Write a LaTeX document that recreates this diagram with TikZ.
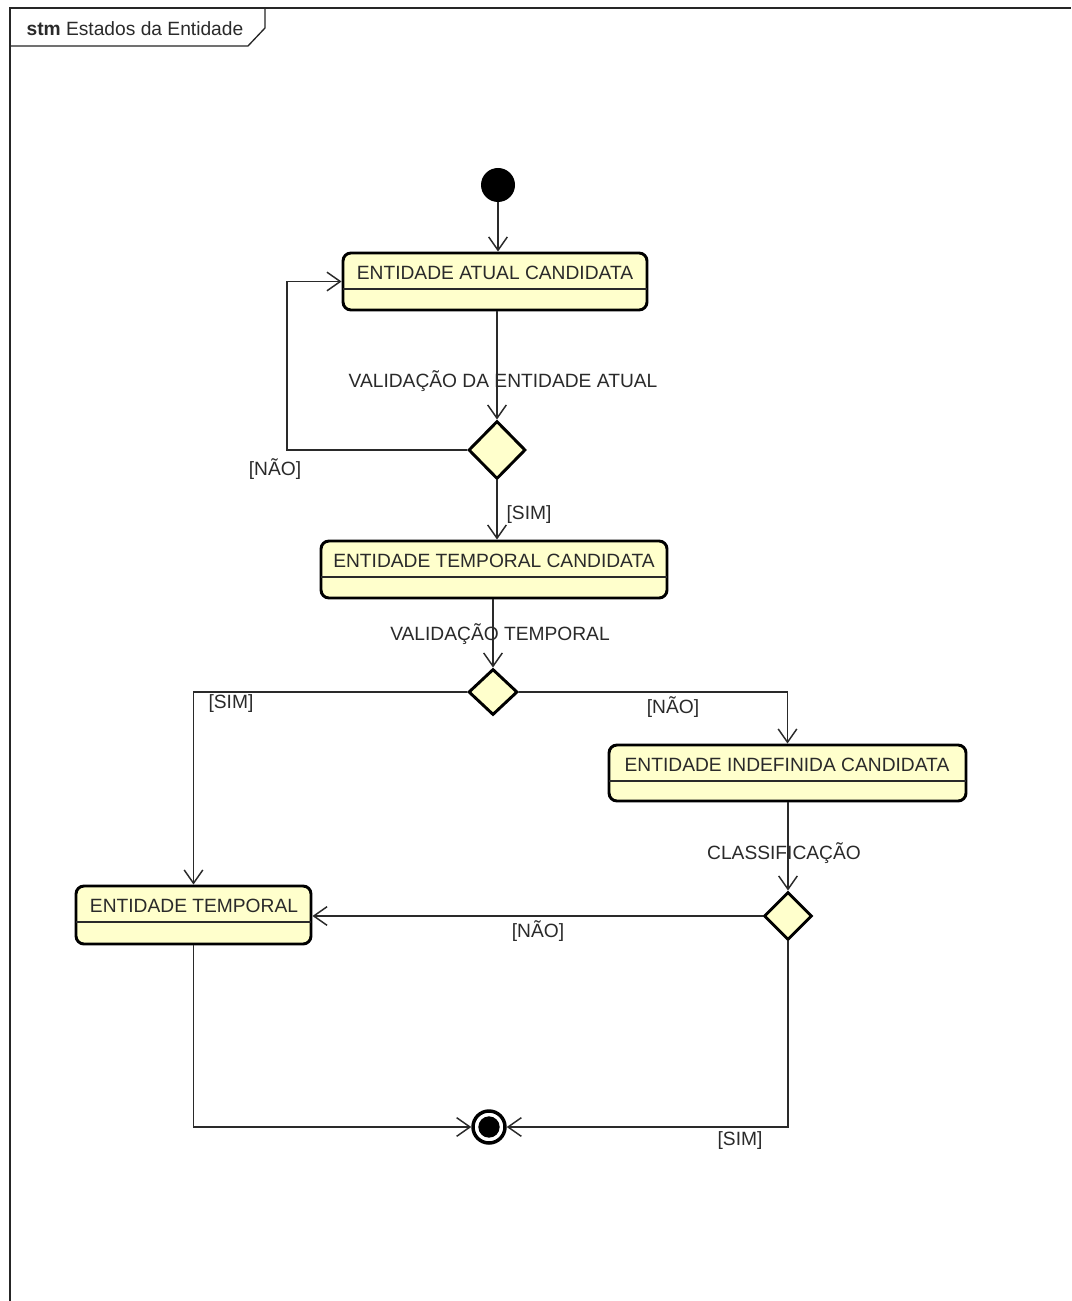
\documentclass[tikz,border=0pt]{standalone}
\usepackage{fontspec}
\setmainfont{Liberation Sans}
\usetikzlibrary{arrows.meta,shapes.geometric,fit}
\definecolor{stfill}{HTML}{FFFFCC}
\definecolor{ink}{HTML}{2A2A2A}
\begin{document}
\begin{tikzpicture}[x=0.75pt,y=-0.75pt,
  txt/.style={font=\fontsize{14.4}{16}\selectfont, text=ink, inner sep=1pt},
  state/.style={draw=black, line width=2.2pt, rounded corners=6pt, fill=stfill, inner sep=0pt},
  choice/.style={diamond, draw=black, line width=2.2pt, fill=stfill, inner sep=0pt},
  conn/.style={draw=ink, line width=1.1pt},
  arr/.style={conn, -{Straight Barb[length=10pt,width=14pt,line width=1.1pt]}},
  divider/.style={draw=ink, line width=0.8pt},
  framestyle/.style={draw=black!85, line width=1pt}]
\useasboundingbox (0,0) rectangle (1071,1301);
\fill[white] (0,0) rectangle (1071,1301);
% frame
\draw[framestyle] (10,1301) -- (10,8) -- (1071,8);
\draw[framestyle] (10,46) -- (248,46) -- (265,28) -- (265,8);
\node[txt, anchor=west] (title) at (25,29) {\textbf{stm} Estados da Entidade};

% initial
\node[circle, fill=black, inner sep=0pt, minimum size=25.5pt] (init) at (498,185) {};

% states
\node[state, fit={(343,253) (647,310)}] (s1) {};
\draw[divider] (343,289) -- (647,289);
\node[txt] (t1) at (495,273) {ENTIDADE ATUAL CANDIDATA};

\node[state, fit={(321,541) (667,598)}] (s2) {};
\draw[divider] (321,577) -- (667,577);
\node[txt] (t2) at (494,561) {ENTIDADE TEMPORAL CANDIDATA};

\node[state, fit={(609,745) (966,801)}] (s4) {};
\draw[divider] (609,781) -- (966,781);
\node[txt] (t4) at (787,765) {ENTIDADE INDEFINIDA CANDIDATA};

\node[state, fit={(76,886) (311,944)}] (s3) {};
\draw[divider] (76,922) -- (311,922);
\node[txt] (t3) at (194,906) {ENTIDADE TEMPORAL};

% choices
\node[choice, minimum width=42.75pt, minimum height=43.5pt] (d1) at (497,450) {};
\node[choice, minimum width=36.75pt, minimum height=34.5pt] (d2) at (493,692) {};
\node[choice, minimum width=36pt, minimum height=36pt] (d3) at (788,916) {};

% final
\node[circle, draw=black, line width=2.6pt, fill=white, inner sep=0pt, minimum size=24pt] (fin) at (489,1127) {};
\node[circle, fill=black, inner sep=0pt, minimum size=16pt] (finin) at (489,1127) {};

% connectors
\coordinate (loopc) at (287,450);
\draw[arr] (init) -- (init |- s1.north);
\draw[arr] (d1 |- s1.south) -- (d1.north);
\draw[arr] (d1.west) -- (loopc) |- (s1.west);
\draw[arr] (d1.south) -- (d1.south |- s2.north);
\draw[arr] (d2 |- s2.south) -- (d2.north);
\draw[arr] (d2.west) -| (s3.north);
\draw[arr] (d2.east) -| (s4.north);
\draw[arr] (d3 |- s4.south) -- (d3.north);
\draw[arr] (d3.west) -- (d3.west -| s3.east);
\draw[arr] (s3.south) |- (fin.west);
\draw[arr] (d3.south) |- (fin.east);

% labels
\node[txt] (l1) at (503,381) {VALIDAÇÃO DA ENTIDADE ATUAL};
\node[txt] (l2) at (275,469) {[NÃO]};
\node[txt] (l3) at (529,515) {[SIM]};
\node[txt] (l4) at (500,634) {VALIDAÇÃO TEMPORAL};
\node[txt] (l5) at (231,704) {[SIM]};
\node[txt] (l6) at (673,707) {[NÃO]};
\node[txt] (l7) at (784,853) {CLASSIFICAÇÃO};
\node[txt] (l8) at (538,931) {[NÃO]};
\node[txt] (l9) at (740,1141) {[SIM]};
\end{tikzpicture}
\end{document}
